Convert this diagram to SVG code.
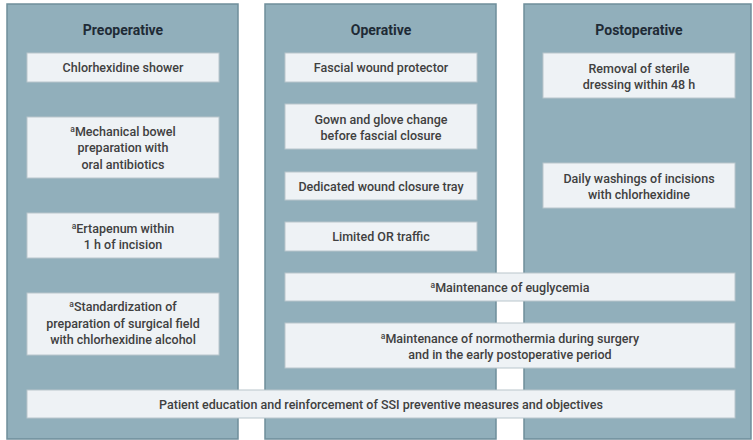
<svg xmlns="http://www.w3.org/2000/svg" width="753" height="440" viewBox="0 0 753 440">
<style>
.panel{fill:#91afbb;stroke:#6f8e9b;stroke-width:1.5}
.box{fill:#eef2f5;stroke:#b9c6cc;stroke-width:1}
.t{font-family:Roboto,"Liberation Sans",Arial,sans-serif;font-size:12.5px;font-weight:500;fill:#404040;text-anchor:middle}
.h{font-family:Roboto,"Liberation Sans",Arial,sans-serif;font-size:14px;font-weight:bold;fill:#1f2b36;text-anchor:middle}
.sup{font-size:8.5px}
</style>
<rect width="753" height="440" fill="#ffffff"/>
<g id="panel-preoperative">
<rect class="panel" x="7" y="4" width="231" height="435"/>
<text class="h" x="123" y="35">Preoperative</text>
</g>
<g id="panel-operative">
<rect class="panel" x="265" y="4" width="231" height="435"/>
<text class="h" x="381" y="35">Operative</text>
</g>
<g id="panel-postoperative">
<rect class="panel" x="524" y="4" width="227" height="435"/>
<text class="h" x="639" y="35">Postoperative</text>
</g>
<g id="connectors"></g>
<g id="chlorhexidine-shower">
<rect class="box" x="27" y="53" width="192" height="29"/>
<text class="t" x="123" y="72">Chlorhexidine shower</text>
</g>
<g id="mechanical-bowel">
<rect class="box" x="27" y="117" width="192" height="61"/>
<text class="t" x="123" y="135.5"><tspan class="sup" dy="-4">a</tspan><tspan dy="4">Mechanical bowel</tspan></text>
<text class="t" x="123" y="152">preparation with</text>
<text class="t" x="123" y="168.5">oral antibiotics</text>
</g>
<g id="ertapenum">
<rect class="box" x="27" y="213" width="192" height="45"/>
<text class="t" x="123" y="232.5"><tspan class="sup" dy="-4">a</tspan><tspan dy="4">Ertapenum within</tspan></text>
<text class="t" x="123" y="248.5">1 h of incision</text>
</g>
<g id="standardization">
<rect class="box" x="27" y="293" width="192" height="62"/>
<text class="t" x="123" y="311"><tspan class="sup" dy="-4">a</tspan><tspan dy="4">Standardization of</tspan></text>
<text class="t" x="123" y="327.5">preparation of surgical field</text>
<text class="t" x="123" y="344">with chlorhexidine alcohol</text>
</g>
<g id="fascial-wound-protector">
<rect class="box" x="285" y="53" width="192" height="29"/>
<text class="t" x="381" y="72">Fascial wound protector</text>
</g>
<g id="gown-glove">
<rect class="box" x="285" y="104" width="192" height="45"/>
<text class="t" x="381" y="123.5">Gown and glove change</text>
<text class="t" x="381" y="139.5">before fascial closure</text>
</g>
<g id="wound-closure-tray">
<rect class="box" x="285" y="172" width="192" height="28"/>
<text class="t" x="381" y="190.5">Dedicated wound closure tray</text>
</g>
<g id="limited-or-traffic">
<rect class="box" x="285" y="222" width="192" height="29"/>
<text class="t" x="381" y="241">Limited OR traffic</text>
</g>
<g id="euglycemia">
<rect class="box" x="285" y="273" width="450" height="28"/>
<text class="t" x="510" y="291.5"><tspan class="sup" dy="-4">a</tspan><tspan dy="4">Maintenance of euglycemia</tspan></text>
</g>
<g id="normothermia">
<rect class="box" x="285" y="323" width="450" height="45"/>
<text class="t" x="510" y="342.5"><tspan class="sup" dy="-4">a</tspan><tspan dy="4">Maintenance of normothermia during surgery</tspan></text>
<text class="t" x="510" y="358.5">and in the early postoperative period</text>
</g>
<g id="removal-dressing">
<rect class="box" x="543" y="53" width="192" height="45"/>
<text class="t" x="639" y="72.5">Removal of sterile</text>
<text class="t" x="639" y="88.5">dressing within 48 h</text>
</g>
<g id="daily-washings">
<rect class="box" x="543" y="163" width="192" height="45"/>
<text class="t" x="639" y="182.5">Daily washings of incisions</text>
<text class="t" x="639" y="198.5">with chlorhexidine</text>
</g>
<g id="patient-education">
<rect class="box" x="27" y="390" width="708" height="28"/>
<text class="t" x="381" y="408.5">Patient education and reinforcement of SSI preventive measures and objectives</text>
</g>
</svg>
